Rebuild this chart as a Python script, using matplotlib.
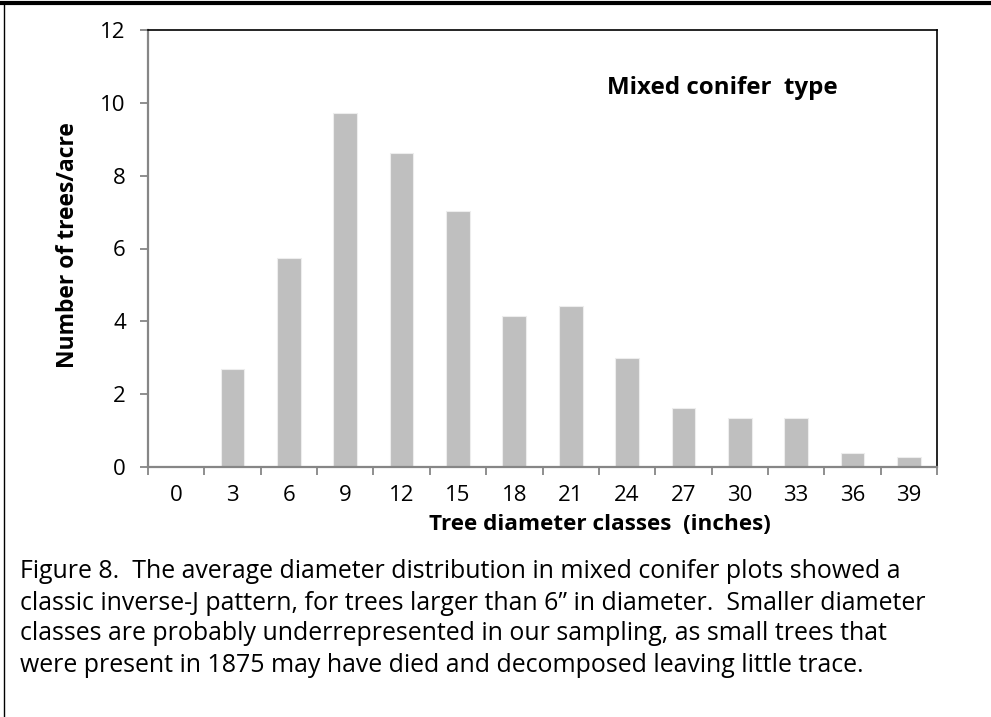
import matplotlib
matplotlib.use("Agg")
import matplotlib.pyplot as plt
from matplotlib.lines import Line2D
import numpy as np

categories = ["0", "3", "6", "9", "12", "15", "18", "21", "24", "27", "30", "33", "36", "39"]
values = [0.0, 2.69, 5.75, 9.71, 8.63, 7.03, 4.14, 4.41, 2.99, 1.62, 1.35, 1.35, 0.39, 0.27]
yticks = [0, 2, 4, 6, 8, 10, 12]

plt.rcParams['font.family'] = ['Open Sans', 'DejaVu Sans']

W, H = 991, 717
fig = plt.figure(figsize=(W / 100, H / 100), dpi=100)
ax = fig.add_axes([148 / W, 1 - 467 / H, (937 - 148) / W, (467 - 30) / H])

x = np.arange(len(categories))
ax.bar(x, values, width=0.42, color='#BFBFBF', edgecolor='#EDEDED', linewidth=0.8, zorder=2)
ax.set_xlim(-0.5, len(categories) - 0.5)
ax.set_ylim(0, 12)

ax.set_yticks(yticks)
ax.set_yticklabels([str(t) for t in yticks], fontsize=16)
ax.set_xticks(x)
ax.set_xticklabels(categories, fontsize=16)
ax.tick_params(axis='x', which='major', length=0, pad=13)
ax.set_xticks(np.arange(-0.5, len(categories), 1.0), minor=True)
ax.tick_params(axis='x', which='minor', length=6, width=1.3, color='#868686', direction='out')
ax.tick_params(axis='y', length=6, width=1.3, color='#868686', direction='out', pad=10)

for s in ['left', 'bottom']:
    ax.spines[s].set_color('#868686')
    ax.spines[s].set_linewidth(1.6)
for s in ['top', 'right']:
    ax.spines[s].set_color('black')
    ax.spines[s].set_linewidth(1.2)

fig.text(68 / W, 1 - 245 / H, 'Number of trees/acre', fontsize=16.5, fontweight='bold',
         rotation=90, ha='center', va='center')
fig.text(600 / W, 1 - 524 / H, 'Tree diameter classes  (inches)', fontsize=16.2,
         fontweight='bold', ha='center', va='center')
fig.text(722 / W, 1 - 88 / H, 'Mixed conifer  type', fontsize=17.4,
         fontweight='bold', ha='center', va='center')

caption = [
    "Figure 8.  The average diameter distribution in mixed conifer plots showed a",
    "classic inverse-J pattern, for trees larger than 6\u201d in diameter.  Smaller diameter",
    "classes are probably underrepresented in our sampling, as small trees that",
    "were present in 1875 may have died and decomposed leaving little trace.",
]
ys = [571, 603, 634, 665]
for line, yy in zip(caption, ys):
    fig.text(20 / W, 1 - yy / H, line, fontsize=17.9, ha='left', va='center')

fig.add_artist(Line2D([0, 1], [1 - 3 / H, 1 - 3 / H], color='black', linewidth=3,
                      transform=fig.transFigure))
fig.add_artist(Line2D([4 / W, 4 / W], [0, 1 - 3 / H], color='black', linewidth=1,
                      transform=fig.transFigure))

fig.savefig('out.png', dpi=100)
